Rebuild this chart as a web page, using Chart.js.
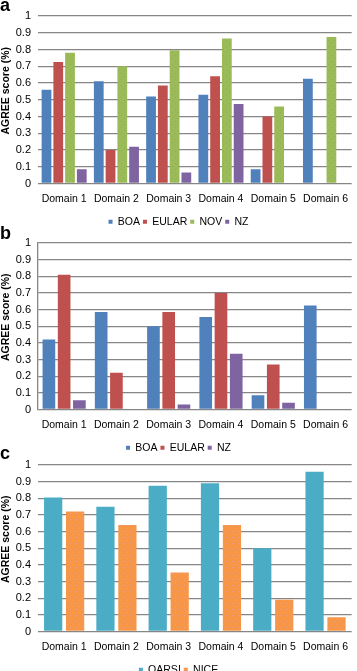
<!DOCTYPE html>
<html>
<head>
<meta charset="utf-8">
<script src="https://cdn.jsdelivr.net/npm/chart.js@4"></script>
<style>
  html, body { margin: 0; padding: 0; background: #fff; }
  body { width: 357px; height: 671px; position: relative; overflow: hidden; font-family: "Liberation Sans", Arial, sans-serif; }
  .panel { position: absolute; left: 0; width: 357px; }
  .tag { position: absolute; left: 0; font: bold 18px "Liberation Sans", Arial, sans-serif; color: #000; line-height: 1; z-index: 2; }
</style>
</head>
<body>
<div class="panel" style="top:0"><canvas id="chartA" width="357" height="237"></canvas></div>
<div class="panel" style="top:227px"><canvas id="chartB" width="357" height="236"></canvas></div>
<div class="panel" style="top:449px"><canvas id="chartC" width="357" height="236"></canvas></div>
<div class="tag" style="top:-4px">a</div>
<div class="tag" style="top:224px">b</div>
<div class="tag" style="top:444px">c</div>

<script>
// data
const domains = ['Domain 1', 'Domain 2', 'Domain 3', 'Domain 4', 'Domain 5', 'Domain 6'];
const yTicks = ['0', '0.1', '0.2', '0.3', '0.4', '0.5', '0.6', '0.7', '0.8', '0.9', '1'];

// panel a
const boaA   = [0.56, 0.61, 0.52, 0.53, 0.085, 0.625];
const eularA = [0.725, 0.2, 0.585, 0.64, 0.4, 0];
const novA   = [0.78, 0.70, 0.795, 0.865, 0.46, 0.875];
const nzA    = [0.085, 0.22, 0.065, 0.475, 0, 0];

// panel b
const boaB   = [0.42, 0.585, 0.50, 0.555, 0.085, 0.625];
const eularB = [0.81, 0.22, 0.585, 0.70, 0.27, 0];
const nzB    = [0.055, 0, 0.03, 0.335, 0.04, 0];

// panel c
const oarsiC = [0.805, 0.75, 0.875, 0.89, 0.50, 0.96];
const niceC  = [0.72, 0.64, 0.355, 0.64, 0.19, 0.085];

const FONT = '"Liberation Sans", Arial, sans-serif';

// small dotted texture like the original bars
function dots(base, dot) {
    const c = document.createElement('canvas');
    c.width = 6; c.height = 6;
    const x = c.getContext('2d');
    x.fillStyle = base;
    x.fillRect(0, 0, 6, 6);
    x.fillStyle = dot;
    x.fillRect(1, 1, 1, 1);
    x.fillRect(4, 4, 1, 1);
    return x.createPattern(c, 'repeat');
}

const BLUE = dots('#4f81bd', '#5a78a8');
const RED = dots('#c0504d', '#b35a5e');
const GREEN = dots('#9bbb59', '#8fae5c');
const PURPLE = dots('#8064a2', '#76629a');
const TEAL = '#4bacc6';
const ORANGE = dots('#f79646', '#e8a08a');

// y axis title drawn a little above center, as in the original
const yTitle = {
    id: 'yTitle',
    afterDraw(chart) {
        const ctx = chart.ctx;
        const a = chart.chartArea;
        ctx.save();
        ctx.translate(6, (a.top + a.bottom) / 2 - 9);
        ctx.rotate(-Math.PI / 2);
        ctx.font = 'bold 10.5px ' + FONT;
        ctx.fillStyle = '#000';
        ctx.textAlign = 'center';
        ctx.textBaseline = 'middle';
        ctx.fillText('AGREE score (%)', 0, 0);
        ctx.restore();
    }
};

function makeChart(id, datasets, catPct, leftBorder) {
    const ctx = document.getElementById(id).getContext('2d');
    return new Chart(ctx, {
        type: 'bar',
        data: { labels: domains, datasets: datasets },
        plugins: [yTitle],
        options: {
            responsive: false,
            animation: false,
            layout: { padding: { top: 16, left: 0, right: 0, bottom: 0 } },
            datasets: { bar: { categoryPercentage: catPct, barPercentage: 0.83 } },
            scales: {
                x: {
                    grid: { display: false, drawTicks: false },
                    border: { display: false },
                    ticks: { color: '#000', font: { family: FONT, size: 10.5 }, padding: 9, maxRotation: 0 },
                    afterFit: s => { s.height = 30; }
                },
                y: {
                    min: 0, max: 1,
                    grid: { color: '#868686', lineWidth: 1.3, drawTicks: false },
                    border: { display: leftBorder, color: '#868686', width: 1.3 },
                    ticks: {
                        stepSize: 0.1, color: '#000', padding: 7,
                        font: { family: FONT, size: 11 },
                        callback: (v, i) => yTicks[i]
                    },
                    afterFit: s => { s.width = 38; }
                }
            },
            plugins: {
                legend: {
                    position: 'bottom',
                    labels: {
                        boxWidth: 4, boxHeight: 4, padding: 3,
                        color: '#000', font: { family: FONT, size: 10.5 }
                    }
                },
                tooltip: { enabled: false }
            }
        }
    });
}

makeChart('chartA', [
    { label: 'BOA', data: boaA, backgroundColor: BLUE },
    { label: 'EULAR', data: eularA, backgroundColor: RED },
    { label: 'NOV', data: novA, backgroundColor: GREEN },
    { label: 'NZ', data: nzA, backgroundColor: PURPLE }
], 0.9, false);

makeChart('chartB', [
    { label: 'BOA', data: boaB, backgroundColor: BLUE },
    { label: 'EULAR', data: eularB, backgroundColor: RED },
    { label: 'NZ', data: nzB, backgroundColor: PURPLE }
], 0.875, true);

makeChart('chartC', [
    { label: 'OARSI', data: oarsiC, backgroundColor: TEAL },
    { label: 'NICE', data: niceC, backgroundColor: ORANGE }
], 0.84, false);
</script>
</body>
</html>
